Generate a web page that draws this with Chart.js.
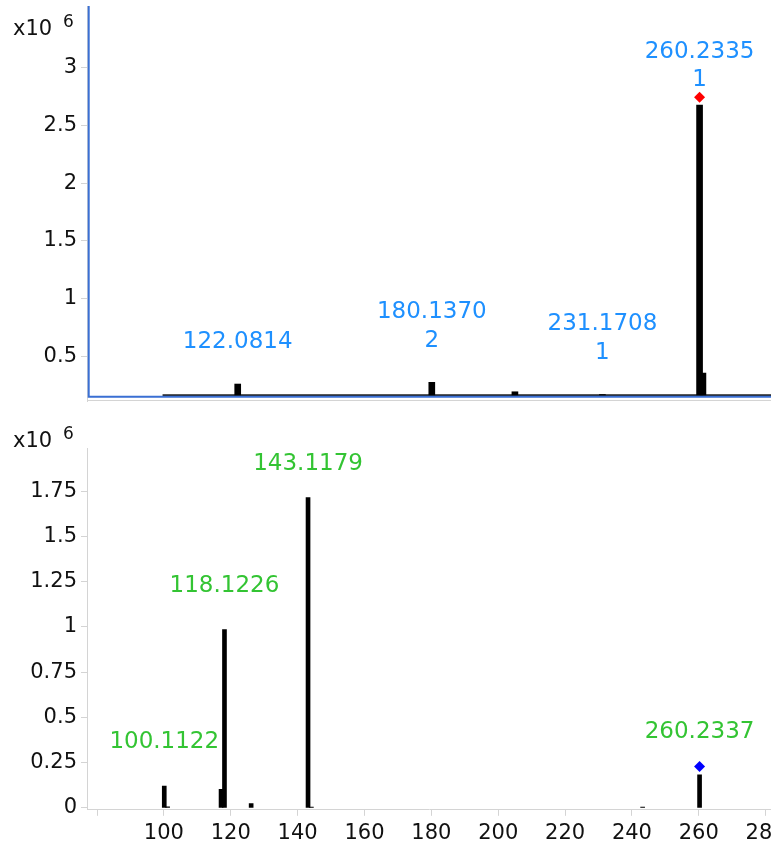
<!DOCTYPE html>
<html>
<head>
<meta charset="utf-8">
<script src="https://cdn.jsdelivr.net/npm/chart.js@4/dist/chart.umd.min.js"></script>
<style>
  html, body { margin: 0; padding: 0; background: #fff; overflow: hidden; width: 771px; height: 846px; }
  .panel { position: absolute; left: 0; }
  #ms1 { top: 0; }
  #ms2 { top: 403px; }
</style>
</head>
<body>
<div class="panel" id="ms1"><canvas id="chart_ms1" width="800" height="403"></canvas></div>
<div class="panel" id="ms2"><canvas id="chart_ms2" width="800" height="448"></canvas></div>
<script>
// m/z window shared by both spectra
const mzMin = 77.0;
const mzMax = 281.6;
const mzTicks = [80, 100, 120, 140, 160, 180, 200, 220, 240, 260, 280];

// MS1 spectrum (counts)
const ms1Mz = [122.0814, 180.1370, 205.0, 231.1708, 260.2335, 261.237];
const ms1Intensity = [259000, 274000, 192000, 168000, 2677000, 354000];
const ms1NoiseMz = [99.6, 281.6];
const ms1NoiseLevel = 162000;
const ms1LabelMz = [122.0814, 180.1370, 231.1708, 260.2335];
const ms1LabelCharge = ['', '2', '1', '1'];
const ms1PrecursorMz = 260.2335;
const ms1PrecursorMark = 2744000;
const ms1YTicks = [500000, 1000000, 1500000, 2000000, 2500000, 3000000];
const ms1YMin = 112000;
const ms1YMax = 3535000;

// MS2 product ion spectrum (counts)
const ms2Mz = [100.1122, 101.115, 117.1, 118.1226, 126.1, 143.1179, 144.12, 243.2, 260.2337];
const ms2Intensity = [120000, 5000, 102000, 985000, 24000, 1715000, 4000, 4000, 183000];
const ms2LabelMz = [100.1122, 118.1226, 143.1179, 260.2337];
const ms2PrecursorMz = 260.2337;
const ms2PrecursorMark = 228000;
const ms2YTicks = [0, 250000, 500000, 750000, 1000000, 1250000, 1500000, 1750000];
const ms2YMin = -11000;
const ms2YMax = 1989000;

Chart.defaults.font.family = '"DejaVu Sans", sans-serif';
Chart.defaults.color = '#111';

const axisGrey = '#d4d4d4';

// find intensity of the stick at a given m/z
function intensityAt(mzList, intList, mz) {
  return intList[mzList.indexOf(mz)];
}

// labels above the sticks, last line sits "lift" px above the stick top
const peakLabels = {
  id: 'peakLabels',
  afterDatasetsDraw(chart, args, opts) {
    const ctx = chart.ctx;
    const xs = chart.scales.x, ys = chart.scales.y;
    ctx.save();
    ctx.fillStyle = opts.color;
    ctx.font = opts.size + 'px "DejaVu Sans"';
    ctx.textAlign = 'center';
    ctx.textBaseline = 'alphabetic';
    opts.items.forEach((item, i) => {
      const px = xs.getPixelForValue(item.mz);
      let py = ys.getPixelForValue(item.top) - opts.lift[i];
      for (let k = item.lines.length - 1; k >= 0; k--) {
        ctx.fillText(item.lines[k], px, py + opts.size * 0.364);
        py -= opts.lineGap;
      }
    });
    ctx.restore();
  }
};

// "x10 6" multiplier in the corner
const multiplier = {
  id: 'multiplier',
  afterDraw(chart, args, opts) {
    const ctx = chart.ctx;
    ctx.save();
    ctx.fillStyle = '#111';
    ctx.textAlign = 'left';
    ctx.textBaseline = 'middle';
    ctx.font = '21px "DejaVu Sans"';
    ctx.fillText('x10', 13, opts.y);
    ctx.font = '17px "DejaVu Sans"';
    ctx.fillText('6', 63, opts.y - 7);
    ctx.restore();
  }
};

// grey bottom rule and blue selection frame on the MS1 panel
const selFrame = {
  id: 'selFrame',
  afterDraw(chart, args, opts) {
    if (!opts.show) return;
    const ctx = chart.ctx, a = chart.chartArea;
    ctx.save();
    ctx.strokeStyle = axisGrey;
    ctx.lineWidth = 1;
    ctx.beginPath();
    ctx.moveTo(a.left, a.bottom - 0.5);
    ctx.lineTo(a.right, a.bottom - 0.5);
    ctx.stroke();
    ctx.strokeStyle = '#3a6fd3';
    ctx.lineWidth = 2;
    ctx.beginPath();
    ctx.moveTo(a.left + 1.7, a.top);
    ctx.lineTo(a.left + 1.7, a.bottom - 4.3);
    ctx.lineTo(a.right, a.bottom - 4.3);
    ctx.stroke();
    ctx.restore();
  }
};

function makeOptions(yMin, yMax, yTicks, showX, padding, plugins) {
  return {
    responsive: false,
    animation: false,
    layout: { padding: padding, autoPadding: false },
    plugins: Object.assign({ legend: { display: false }, tooltip: { enabled: false } }, plugins),
    scales: {
      x: {
        type: 'linear',
        display: showX,
        min: mzMin,
        max: mzMax,
        offset: false,
        afterBuildTicks: axis => { axis.ticks = mzTicks.map(v => ({ value: v })); },
        grid: { offset: false, drawOnChartArea: false, tickLength: 6, color: axisGrey },
        border: { display: true, color: axisGrey },
        ticks: {
          padding: 5,
          color: '#111',
          font: { size: 21 },
          maxRotation: 0,
          autoSkip: false,
          // the first tick sits against the y axis, so it stays unlabeled
          callback: v => (v - mzMin < 5 ? '' : String(v))
        }
      },
      y: {
        min: yMin,
        max: yMax,
        afterBuildTicks: axis => { axis.ticks = yTicks.map(v => ({ value: v })); },
        afterFit: scale => {
          scale.width = 87;
          // tick labels are well inside the range, no extra room needed
          scale.paddingTop = 0;
          scale.paddingBottom = 0;
        },
        grid: { drawOnChartArea: false, tickLength: 6, color: axisGrey },
        border: { display: true, color: axisGrey },
        ticks: {
          padding: 4,
          color: '#111',
          font: { size: 21 },
          callback: v => String(+(v / 1e6).toFixed(2))
        }
      }
    }
  };
}

function sticks(mzList, intList, width, base) {
  const ds = {
    type: 'bar',
    data: mzList.map((m, i) => ({ x: m, y: intList[i] })),
    backgroundColor: '#000',
    borderWidth: 0,
    barThickness: width
  };
  if (base !== undefined) ds.base = base;
  return ds;
}

function marker(mz, level, color, r) {
  return {
    type: 'line',
    data: [{ x: mz, y: level }],
    showLine: false,
    pointStyle: 'rectRot',
    pointRadius: r,
    pointBackgroundColor: color,
    pointBorderWidth: 0
  };
}

// MS1 panel
new Chart(document.getElementById('chart_ms1'), {
  type: 'bar',
  data: {
    datasets: [
      marker(ms1PrecursorMz, ms1PrecursorMark, '#ff0000', 5.5),
      sticks(ms1Mz, ms1Intensity, 6, ms1NoiseLevel),
      {
        type: 'line',
        data: ms1NoiseMz.map(m => ({ x: m, y: ms1NoiseLevel })),
        borderColor: '#222',
        borderWidth: 2,
        pointRadius: 0
      }
    ]
  },
  options: makeOptions(ms1YMin, ms1YMax, ms1YTicks, false,
    { top: 6, right: 29, bottom: 2, left: 0 },
    {
      peakLabels: {
        color: '#1e90ff',
        size: 23,
        lineGap: 28.5,
        lift: [44, 44, 44, 27],
        items: ms1LabelMz.map((m, i) => ({
          mz: m,
          top: intensityAt(ms1Mz, ms1Intensity, m),
          lines: ms1LabelCharge[i] ? [m.toFixed(4), ms1LabelCharge[i]] : [m.toFixed(4)]
        }))
      },
      multiplier: { y: 30 },
      selFrame: { show: true }
    }),
  plugins: [peakLabels, multiplier, selFrame]
});

// MS2 panel
new Chart(document.getElementById('chart_ms2'), {
  type: 'bar',
  data: {
    datasets: [
      marker(ms2PrecursorMz, ms2PrecursorMark, '#0000ff', 5.5),
      sticks(ms2Mz, ms2Intensity, 4)
    ]
  },
  options: makeOptions(ms2YMin, ms2YMax, ms2YTicks, true,
    { top: 45, right: 29, bottom: 0, left: 0 },
    {
      peakLabels: {
        color: '#33c433',
        size: 23,
        lineGap: 28.5,
        lift: [46, 46, 36, 45],
        items: ms2LabelMz.map(m => ({
          mz: m,
          top: intensityAt(ms2Mz, ms2Intensity, m),
          lines: [m.toFixed(4)]
        }))
      },
      multiplier: { y: 39 },
      selFrame: { show: false }
    }),
  plugins: [peakLabels, multiplier, selFrame]
});
</script>
</body>
</html>
